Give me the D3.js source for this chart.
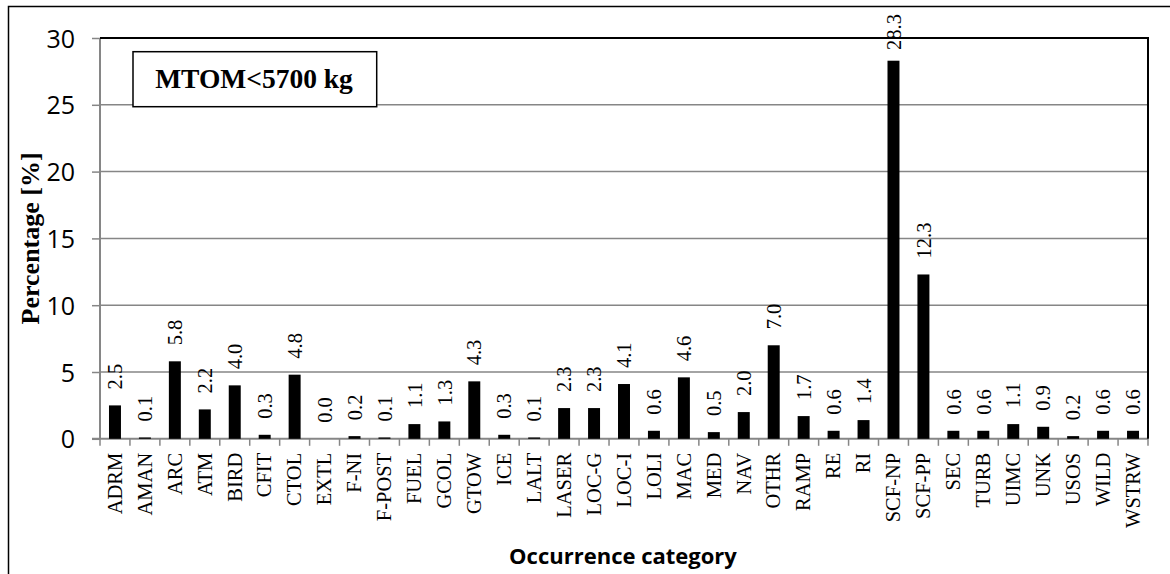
<!DOCTYPE html>
<html>
<head>
<meta charset="utf-8">
<script src="https://cdn.jsdelivr.net/npm/d3@7"></script>
<style>
  html, body { margin: 0; padding: 0; background: #fff; }
  svg { display: block; }
</style>
</head>
<body>
<svg id="chart" width="1170" height="574"></svg>
<script>
const categories = ["ADRM","AMAN","ARC","ATM","BIRD","CFIT","CTOL","EXTL","F-NI","F-POST","FUEL","GCOL","GTOW","ICE","LALT","LASER","LOC-G","LOC-I","LOLI","MAC","MED","NAV","OTHR","RAMP","RE","RI","SCF-NP","SCF-PP","SEC","TURB","UIMC","UNK","USOS","WILD","WSTRW"];
const values = [2.5,0.1,5.8,2.2,4.0,0.3,4.8,0.0,0.2,0.1,1.1,1.3,4.3,0.3,0.1,2.3,2.3,4.1,0.6,4.6,0.5,2.0,7.0,1.7,0.6,1.4,28.3,12.3,0.6,0.6,1.1,0.9,0.2,0.6,0.6];
const yTicks = [0,5,10,15,20,25,30];
const legendText = "MTOM<5700 kg";
const yTitle = "Percentage [%]";
const xTitle = "Occurrence category";

const svg = d3.select("#chart");
const L = 100, R = 1148, T = 38, B = 438.8;
const serif = "'Liberation Serif','Times New Roman',serif";
const sans = "'Open Sans','Liberation Sans',sans-serif";
const grid = "#868686";

// outer frame (cropped)
svg.append("path").attr("d", `M8.5,574 L8.5,6.5 L1172,6.5`).attr("fill","none").attr("stroke","#000").attr("stroke-width",1.5);

const x = d3.scaleBand().domain(categories).range([L, R]).paddingInner(0.6).paddingOuter(0.3);
const xb = d3.scaleBand().domain(categories).range([L, R]);
const y = d3.scaleLinear().domain([0, 30]).range([B, T]);

// gridlines
svg.append("g").selectAll("line").data(yTicks.filter(d => d > 0 && d < 30)).join("line")
  .attr("x1", L).attr("x2", R).attr("y1", d => y(d)).attr("y2", d => y(d))
  .attr("stroke", grid).attr("stroke-width", 1.5);

// y axis
const yAxis = svg.append("g").attr("transform", `translate(${L},0)`)
  .call(d3.axisLeft(y).tickValues(yTicks).tickSize(8).tickPadding(17).tickFormat(d3.format("d")));
yAxis.select(".domain").attr("stroke", grid).attr("stroke-width", 2).attr("d", `M0,${T}V${B}`);
yAxis.selectAll(".tick line").attr("stroke", grid).attr("stroke-width", 1.5);
yAxis.selectAll(".tick text").attr("font-family", sans).attr("font-size", 25).attr("fill", "#000").attr("dy", "0.36em");

// x axis
const xAxis = svg.append("g").attr("transform", `translate(0,${B})`);
xAxis.append("line").attr("x1", L - 8).attr("x2", R).attr("y1", 0).attr("y2", 0).attr("stroke", grid).attr("stroke-width", 2);
const bounds = categories.map(c => xb(c)).concat([R]);
xAxis.selectAll("line.tk").data(bounds).join("line").attr("class","tk")
  .attr("x1", d => d).attr("x2", d => d).attr("y1", 0).attr("y2", 7)
  .attr("stroke", grid).attr("stroke-width", 1.5);
xAxis.selectAll("text").data(categories).join("text")
  .attr("transform", d => `translate(${xb(d) + xb.bandwidth()/2},14) rotate(-90)`)
  .attr("text-anchor", "end").attr("dy", "0.33em")
  .attr("font-family", serif).attr("font-size", 20.5).attr("fill", "#000")
  .text(d => d);

// top and right border of plot area
svg.append("path").attr("d", `M${L},${T} H${R} V${B}`).attr("fill","none").attr("stroke","#000").attr("stroke-width",2);

// bars
svg.append("g").selectAll("rect").data(categories).join("rect")
  .attr("x", d => x(d)).attr("width", x.bandwidth())
  .attr("y", (d,i) => y(values[i])).attr("height", (d,i) => B - y(values[i]))
  .attr("fill", "#000");

// value labels
svg.append("g").selectAll("text").data(categories).join("text")
  .attr("font-family", serif).attr("font-size", 20.5).attr("fill", "#000")
  .attr("text-anchor", "start").attr("dy", "0.35em")
  .text((d,i) => values[i].toFixed(1))
  .each(function(d,i) {
    const len = this.getComputedTextLength();
    let base = y(values[i]) - 16;
    if (base - len < 14) base = 14 + len;
    d3.select(this).attr("transform", `translate(${xb(d) + xb.bandwidth()/2},${base}) rotate(-90)`);
  });

// legend box
svg.append("rect").attr("x", 133).attr("y", 51.7).attr("width", 243.7).attr("height", 55)
  .attr("fill", "#fff").attr("stroke", "#000").attr("stroke-width", 1.5);
svg.append("text").attr("x", 254).attr("y", 88).attr("text-anchor", "middle")
  .attr("font-family", serif).attr("font-weight", "bold").attr("font-size", 27.5).attr("fill","#000")
  .text(legendText);

// y title
svg.append("text").attr("transform", `translate(39,${(T+B)/2}) rotate(-90)`)
  .attr("text-anchor", "middle")
  .attr("font-family", serif).attr("font-weight", "bold").attr("font-size", 26).attr("fill","#000")
  .text(yTitle);

// x title
svg.append("text").attr("x", 623).attr("y", 564).attr("text-anchor", "middle")
  .attr("font-family", sans).attr("font-weight", "bold").attr("font-size", 22).attr("fill","#000")
  .text(xTitle);
</script>
</body>
</html>
